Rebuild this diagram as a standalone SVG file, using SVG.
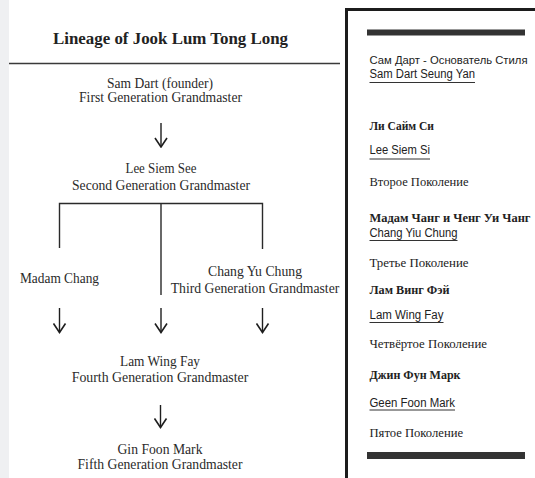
<svg xmlns="http://www.w3.org/2000/svg" width="535" height="478" viewBox="0 0 535 478">
<style>
.t{font-family:"Liberation Serif","Times New Roman",serif;font-size:13.7px;fill:#2a2a2a;text-anchor:middle}
.h{font-family:"Liberation Serif","Times New Roman",serif;font-size:16.5px;font-weight:bold;fill:#222;text-anchor:middle}
.rs{font-family:"Liberation Sans",Arial,sans-serif;font-size:12.5px;fill:#222}
.rb{font-family:"Liberation Serif","DejaVu Serif",serif;font-size:11.5px;font-weight:bold;fill:#222}
.rr{font-family:"Liberation Serif","DejaVu Serif",serif;font-size:11.5px;fill:#222}
.ul{stroke:#333;stroke-width:1}
.c{fill:none;stroke:#2a2a2a;stroke-width:1.4}
.a{fill:none;stroke:#1e1e1e;stroke-width:1.4}
</style>
<defs>
<marker id="ah" markerUnits="userSpaceOnUse" markerWidth="11" markerHeight="14" viewBox="0 0 11 14" refX="10" refY="7" orient="auto">
<path d="M1,1 L10,7 L1,13" fill="none" stroke="#1e1e1e" stroke-width="1.6"/>
</marker>
</defs>
<rect width="535" height="478" fill="#ffffff"/>
<rect x="0" y="0" width="9" height="478" fill="#eff0f2"/>
<g id="title">
<text class="h" x="170.5" y="44" textLength="235" lengthAdjust="spacingAndGlyphs">Lineage of Jook Lum Tong Long</text>
<line x1="9" y1="63.5" x2="340" y2="63.5" stroke="#3a3a3a" stroke-width="1.5"/>
</g>
<g id="connectors">
<line class="a" x1="161" y1="123" x2="161" y2="147" marker-end="url(#ah)"/>
<path class="c" d="M59.5,248 V203.5 H262.5 V249 M161,203.5 V295"/>
<line class="a" x1="59.5" y1="308" x2="59.5" y2="332.5" marker-end="url(#ah)"/>
<line class="a" x1="161" y1="308" x2="161" y2="332.5" marker-end="url(#ah)"/>
<line class="a" x1="262.5" y1="308" x2="262.5" y2="332.5" marker-end="url(#ah)"/>
<line class="a" x1="160.5" y1="405" x2="160.5" y2="427.5" marker-end="url(#ah)"/>
</g>
<g id="sam-dart">
<text class="t" x="160" y="87.5" textLength="106" lengthAdjust="spacingAndGlyphs">Sam Dart (founder)</text>
<text class="t" x="160.5" y="102" textLength="163" lengthAdjust="spacingAndGlyphs">First Generation Grandmaster</text>
</g>
<g id="lee-siem-see">
<text class="t" x="161" y="173" textLength="71" lengthAdjust="spacingAndGlyphs">Lee Siem See</text>
<text class="t" x="161" y="190" textLength="178" lengthAdjust="spacingAndGlyphs">Second Generation Grandmaster</text>
</g>
<g id="madam-chang">
<text class="t" x="59.5" y="283" textLength="79" lengthAdjust="spacingAndGlyphs">Madam Chang</text>
</g>
<g id="chang-yu-chung">
<text class="t" x="255" y="276" textLength="94" lengthAdjust="spacingAndGlyphs">Chang Yu Chung</text>
<text class="t" x="255" y="292.5" textLength="168.5" lengthAdjust="spacingAndGlyphs">Third Generation Grandmaster</text>
</g>
<g id="lam-wing-fay">
<text class="t" x="160" y="365.5" textLength="80" lengthAdjust="spacingAndGlyphs">Lam Wing Fay</text>
<text class="t" x="160" y="382" textLength="176.5" lengthAdjust="spacingAndGlyphs">Fourth Generation Grandmaster</text>
</g>
<g id="gin-foon-mark">
<text class="t" x="160" y="454" textLength="85" lengthAdjust="spacingAndGlyphs">Gin Foon Mark</text>
<text class="t" x="160" y="468.5" textLength="165" lengthAdjust="spacingAndGlyphs">Fifth Generation Grandmaster</text>
</g>
<g id="right-panel">
<path d="M346.5,478 V9.5 H535" fill="none" stroke="#1c1c1c" stroke-width="3"/>
<rect x="367" y="29.5" width="158" height="6" fill="#333"/>
<rect x="367" y="452" width="158" height="7" fill="#333"/>
</g>
<g id="r-sam-dart">
<text class="rs" x="369.5" y="63.5" style="font-size:11.5px" textLength="158" lengthAdjust="spacingAndGlyphs">Сам Дарт - Основатель Стиля</text>
<text class="rs" x="369.5" y="78" textLength="105.5" lengthAdjust="spacingAndGlyphs">Sam Dart Seung Yan</text>
<line class="ul" x1="369.5" y1="82.5" x2="475" y2="82.5"/>
</g>
<g id="r-lee-siem-si">
<text class="rb" x="369.5" y="130" textLength="64.5" lengthAdjust="spacingAndGlyphs">Ли Сайм Си</text>
<text class="rs" x="369.5" y="154" textLength="60.5" lengthAdjust="spacingAndGlyphs">Lee Siem Si</text>
<line class="ul" x1="369.5" y1="159" x2="430" y2="159"/>
<text class="rr" x="369.5" y="186" textLength="99" lengthAdjust="spacingAndGlyphs">Второе Поколение</text>
</g>
<g id="r-chang">
<text class="rb" x="369.5" y="221.5" textLength="161" lengthAdjust="spacingAndGlyphs">Мадам Чанг и Ченг Уи Чанг</text>
<text class="rs" x="369.5" y="237" textLength="88" lengthAdjust="spacingAndGlyphs">Chang Yiu Chung</text>
<line class="ul" x1="369.5" y1="240.5" x2="457.5" y2="240.5"/>
<text class="rr" x="369.5" y="266.5" textLength="99" lengthAdjust="spacingAndGlyphs">Третье Поколение</text>
</g>
<g id="r-lam-wing-fay">
<text class="rb" x="369.5" y="294" textLength="80" lengthAdjust="spacingAndGlyphs">Лам Винг Фэй</text>
<text class="rs" x="369.5" y="319" textLength="74" lengthAdjust="spacingAndGlyphs">Lam Wing Fay</text>
<line class="ul" x1="369.5" y1="322.5" x2="443.5" y2="322.5"/>
<text class="rr" x="369.5" y="348" textLength="117.5" lengthAdjust="spacingAndGlyphs">Четвёртое Поколение</text>
</g>
<g id="r-geen-foon-mark">
<text class="rb" x="369.5" y="379" textLength="91" lengthAdjust="spacingAndGlyphs">Джин Фун Марк</text>
<text class="rs" x="369.5" y="406.5" textLength="85.5" lengthAdjust="spacingAndGlyphs">Geen Foon Mark</text>
<line class="ul" x1="369.5" y1="410" x2="455" y2="410"/>
<text class="rr" x="369.5" y="437" textLength="93.5" lengthAdjust="spacingAndGlyphs">Пятое Поколение</text>
</g>
</svg>
